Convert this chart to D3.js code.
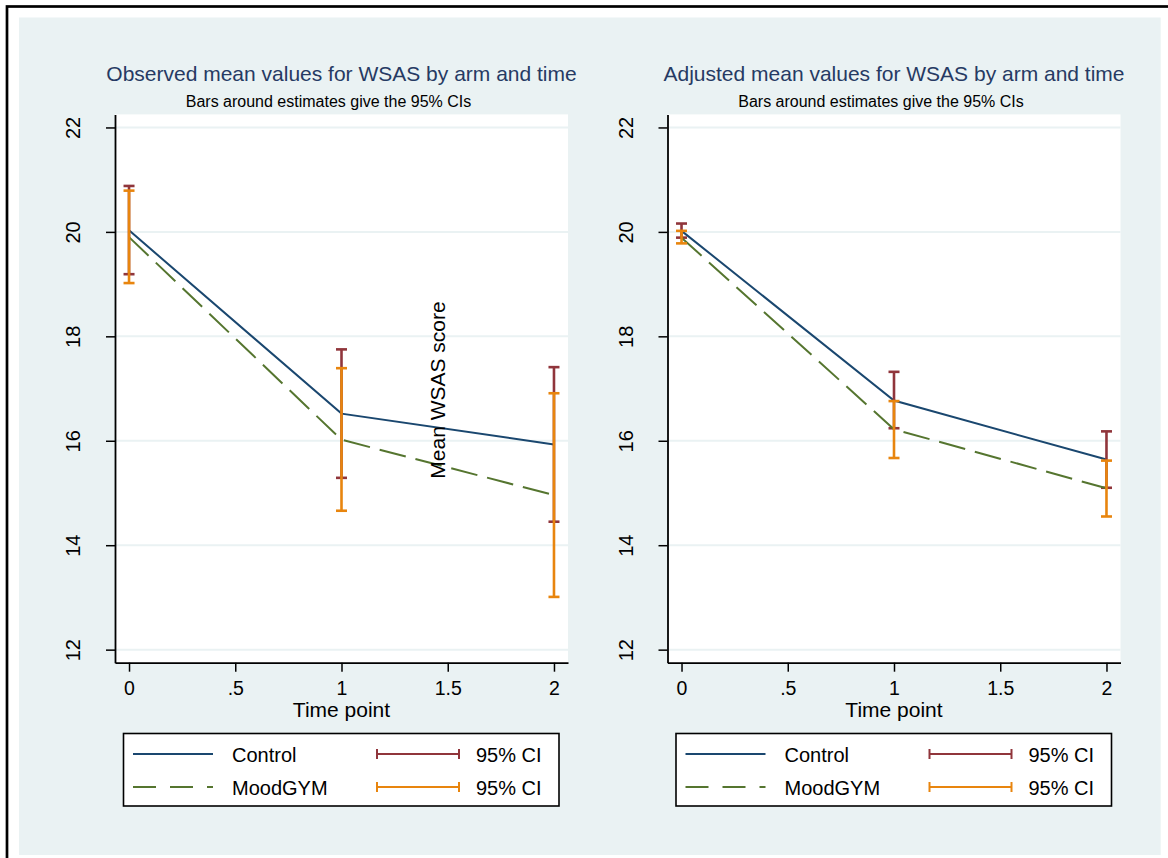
<!DOCTYPE html>
<html>
<head>
<meta charset="utf-8">
<script src="https://cdn.jsdelivr.net/npm/d3@7"></script>
<style>
  body { margin: 0; background: #fff; }
  svg text { font-family: "Liberation Sans", Arial, sans-serif; }
</style>
</head>
<body>
<div id="graf"></div>
<script>
// -- Datos --
timePoints = [0, 1, 2]
xTicks = [0, 0.5, 1, 1.5, 2]
xTickLabels = ['0', '.5', '1', '1.5', '2']
yTicks = [12, 14, 16, 18, 20, 22]

// observados
obsControl   = [20.03, 16.52, 15.93]
obsControlLo = [19.19, 15.29, 14.45]
obsControlHi = [20.88, 17.75, 17.41]
obsMood      = [19.90, 16.02, 14.96]
obsMoodLo    = [19.02, 14.66, 13.01]
obsMoodHi    = [20.79, 17.39, 16.91]

// ajustados
adjControl   = [20.02, 16.77, 15.64]
adjControlLo = [19.89, 16.24, 15.10]
adjControlHi = [20.16, 17.32, 16.18]
adjMood      = [19.89, 16.22, 15.09]
adjMoodLo    = [19.78, 15.67, 14.55]
adjMoodHi    = [20.02, 16.76, 15.62]

titles = ['Observed mean values for WSAS by arm and time',
          'Adjusted mean values for WSAS by arm and time']
subtitle = 'Bars around estimates give the 95% CIs'
seriesNames = ['Control', 'MoodGYM']
ciName = '95% CI'

colControl = '#1a476f'
colMood = '#55752f'
colCiControl = '#90353b'
colCiMood = '#e8850e'
bgColor = '#eaf2f3'

// -- Canvas --
ancho_total = 1168
alto_total = 858

svg = d3.select('#graf').append('svg')
        .attr('width', ancho_total)
        .attr('height', alto_total)

// fondo general
svg.append('rect')
   .attr('x', 19).attr('y', 17.5)
   .attr('width', 1160.7 - 19).attr('height', 855 - 17.5)
   .attr('fill', bgColor)

// marco exterior
svg.append('rect')
   .attr('x', 7).attr('y', 6.5)
   .attr('width', 1200).attr('height', 900)
   .attr('fill', 'none')
   .attr('stroke', '#000')
   .attr('stroke-width', 2.7)

plot = {left: 115, right: 568, top: 114.4, bottom: 662.7}

x = d3.scaleLinear().domain([-0.066, 2.066]).range([plot.left, plot.right])
y = d3.scaleLinear().domain([11.75, 22.25]).range([plot.bottom, plot.top])

function panel(offset, idx, control, cLo, cHi, mood, mLo, mHi) {
    g = svg.append('g').attr('transform', `translate(${offset}, 0)`)

    // area blanca
    g.append('rect')
     .attr('x', plot.left).attr('y', plot.top)
     .attr('width', plot.right - plot.left)
     .attr('height', plot.bottom - plot.top)
     .attr('fill', '#fff')

    // grid
    g.selectAll('.grid')
     .data(yTicks)
     .enter().append('line')
       .attr('x1', plot.left + 1).attr('x2', plot.right)
       .attr('y1', d => y(d)).attr('y2', d => y(d))
       .attr('stroke', bgColor)
       .attr('stroke-width', 2)

    // titulos
    g.append('text')
     .attr('x', (plot.left + plot.right) / 2)
     .attr('y', 80.7)
     .attr('text-anchor', 'middle')
     .attr('font-size', '21px')
     .attr('fill', '#263a63')
     .text(titles[idx])

    g.append('text')
     .attr('x', (plot.left + plot.right) / 2 - 13)
     .attr('y', 106.7)
     .attr('text-anchor', 'middle')
     .attr('font-size', '16px')
     .attr('fill', '#000')
     .text(subtitle)

    // ejes
    yAxisCall = d3.axisLeft(y).tickValues(yTicks).tickSize(9).tickSizeOuter(0)
    yAxisGroup = g.append('g')
                  .attr('transform', `translate(${plot.left}, 0)`)
                  .call(yAxisCall)
    yAxisGroup.select('.domain').attr('stroke-width', 1.8)
    yAxisGroup.selectAll('.tick line').attr('stroke-width', 1.5)
    yAxisGroup.selectAll('text')
              .attr('x', 0).attr('y', 0).attr('dy', 0)
              .attr('transform', 'translate(-35, 0) rotate(-90)')
              .attr('text-anchor', 'middle')
              .attr('font-size', '20px')
              .attr('fill', '#000')
              .attr('font-family', null)

    xAxisCall = d3.axisBottom(x).tickValues(xTicks).tickSize(9).tickSizeOuter(0)
                  .tickFormat((d, i) => xTickLabels[i])
    xAxisGroup = g.append('g')
                  .attr('transform', `translate(0, ${plot.bottom})`)
                  .call(xAxisCall)
    xAxisGroup.select('.domain').attr('stroke-width', 1.8)
    xAxisGroup.selectAll('.tick line').attr('stroke-width', 1.5)
    xAxisGroup.selectAll('text')
              .attr('y', 32.3).attr('dy', 0)
              .attr('font-size', '19.5px')
              .attr('fill', '#000')
              .attr('font-family', null)

    g.append('text')
     .attr('x', (plot.left + plot.right) / 2)
     .attr('y', 717)
     .attr('text-anchor', 'middle')
     .attr('font-size', '21px')
     .text('Time point')

    // lineas y barras
    line = d3.line().x((d, i) => x(timePoints[i])).y(d => d)

    function drawLine(vals, color, dash) {
        g.append('path')
         .datum(vals.map(v => y(v)))
         .attr('d', line)
         .attr('fill', 'none')
         .attr('stroke', color)
         .attr('stroke-width', 2)
         .attr('stroke-dasharray', dash)
    }

    function drawCI(lo, hi, color) {
        bars = g.append('g')
        bars.selectAll('.v').data(timePoints).enter().append('line')
            .attr('x1', d => x(d)).attr('x2', d => x(d))
            .attr('y1', (d, i) => y(lo[i])).attr('y2', (d, i) => y(hi[i]))
            .attr('stroke', color).attr('stroke-width', 2.6)
        capsData = []
        timePoints.forEach((t, i) => { capsData.push([t, lo[i]]); capsData.push([t, hi[i]]) })
        bars.selectAll('.c').data(capsData).enter().append('line')
            .attr('x1', d => x(d[0]) - 5.5).attr('x2', d => x(d[0]) + 5.5)
            .attr('y1', d => y(d[1])).attr('y2', d => y(d[1]))
            .attr('stroke', color).attr('stroke-width', 2.6)
    }

    drawLine(control, colControl, null)
    drawCI(cLo, cHi, colCiControl)
    drawLine(mood, colMood, '27,10')
    drawCI(mLo, mHi, colCiMood)

    // leyenda
    leg = g.append('g')
    leg.append('rect')
       .attr('x', 123.5).attr('y', 733.5)
       .attr('width', 559 - 123.5).attr('height', 806 - 733.5)
       .attr('fill', '#fff')
       .attr('stroke', '#000')
       .attr('stroke-width', 1.6)

    rowsY = [754, 787]
    sampleCols = [colControl, colMood]
    sampleDash = [null, '23,14']
    ciCols = [colCiControl, colCiMood]

    rowsY.forEach((ry, i) => {
        leg.append('line')
           .attr('x1', 133).attr('x2', 213)
           .attr('y1', ry).attr('y2', ry)
           .attr('stroke', sampleCols[i]).attr('stroke-width', 2)
           .attr('stroke-dasharray', sampleDash[i])
        leg.append('text')
           .attr('x', 232).attr('y', ry + 7.5)
           .attr('font-size', '20px')
           .text(seriesNames[i])
        leg.append('line')
           .attr('x1', 377).attr('x2', 459)
           .attr('y1', ry).attr('y2', ry)
           .attr('stroke', ciCols[i]).attr('stroke-width', 2)
        ;[377, 459].forEach(cx => {
            leg.append('line')
               .attr('x1', cx).attr('x2', cx)
               .attr('y1', ry - 5).attr('y2', ry + 5)
               .attr('stroke', ciCols[i]).attr('stroke-width', 2)
        })
        leg.append('text')
           .attr('x', 476).attr('y', ry + 7.5)
           .attr('font-size', '20px')
           .text(ciName)
    })
    return g
}

left = panel(0, 0, obsControl, obsControlLo, obsControlHi, obsMood, obsMoodLo, obsMoodHi)
right = panel(552.5, 1, adjControl, adjControlLo, adjControlHi, adjMood, adjMoodLo, adjMoodHi)

// titulo del eje y (queda dentro del panel izquierdo)
svg.append('text')
   .attr('transform', 'translate(445, 390) rotate(-90)')
   .attr('text-anchor', 'middle')
   .attr('font-size', '21px')
   .text('Mean WSAS score')
</script>
</body>
</html>
